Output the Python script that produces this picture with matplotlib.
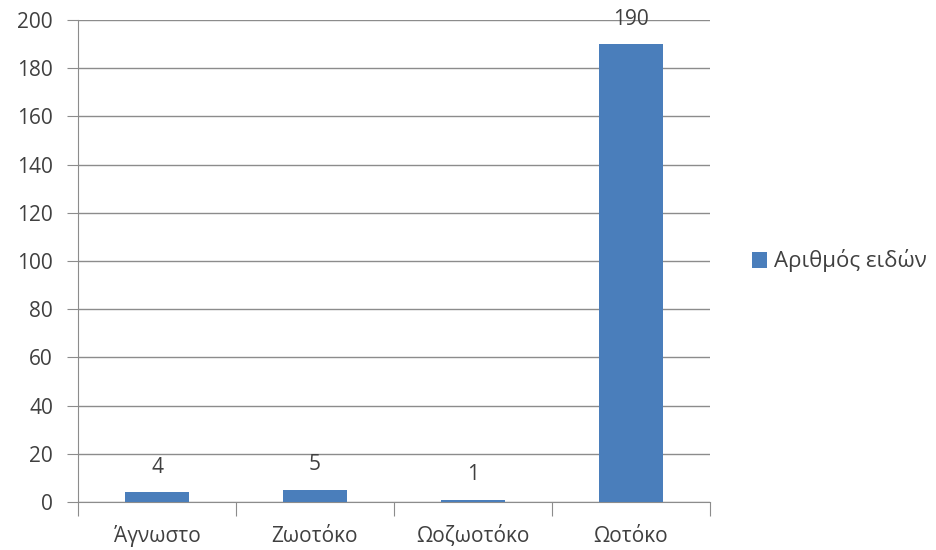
import matplotlib.pyplot as plt

plt.rcParams['font.family'] = ['Open Sans', 'DejaVu Sans']

categories = ["Άγνωστο", "Ζωοτόκο", "Ωοζωοτόκο", "Ωοτόκο"]
counts = [4, 5, 1, 190]
series_name = "Αριθμός ειδών"
y_ticks = list(range(0, 201, 20))

bar_color = "#4A7EBB"
text_color = "#404040"
line_color = "#8C8C8C"
fs = 15

fig = plt.figure(figsize=(9.36, 5.5), dpi=100)
ax = fig.add_axes([78 / 936, 48 / 550, 632 / 936, 482 / 550])

x = list(range(len(categories)))
bars = ax.bar(x, counts, width=0.4, color=bar_color, zorder=3, label=series_name)

# value labels above each bar
for xi, v in zip(x, counts):
    ax.annotate(str(v), (xi, v), xytext=(0, 18), textcoords="offset points",
                ha="center", va="center", fontsize=fs, color=text_color)

ax.set_xlim(-0.5, len(categories) - 0.5)
ax.set_ylim(0, 200)
ax.set_yticks(y_ticks)
ax.yaxis.grid(True, color=line_color, linewidth=1.0, zorder=0)
ax.tick_params(axis="y", length=8, color=line_color, labelsize=fs,
               labelcolor=text_color, pad=10)

# category ticks sit between the bars
ax.set_xticks([i - 0.5 for i in range(len(categories) + 1)])
ax.set_xticklabels([])
ax.set_xticks(x, minor=True)
ax.set_xticklabels(categories, minor=True)
ax.tick_params(axis="x", which="major", length=10, color=line_color)
ax.tick_params(axis="x", which="minor", length=0, labelsize=fs,
               labelcolor=text_color, pad=29)
for lbl in ax.get_xticklabels(minor=True):
    lbl.set_verticalalignment("baseline")

for side in ("top", "right"):
    ax.spines[side].set_visible(False)
for side in ("left", "bottom"):
    ax.spines[side].set_color(line_color)

ax.legend(loc="center left", bbox_to_anchor=(1.066, 0.5), frameon=False,
          fontsize=fs + 1, labelcolor=text_color, handlelength=0.7,
          handleheight=0.7, handletextpad=0.3, borderpad=0, borderaxespad=0)

fig.savefig("out.png", dpi=100)
